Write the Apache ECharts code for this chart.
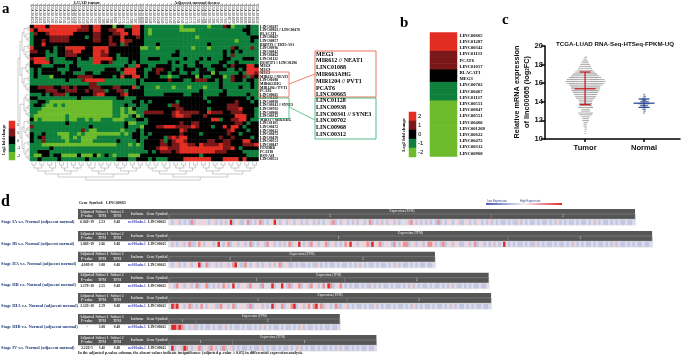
<!DOCTYPE html>
<html><head><meta charset="utf-8">
<style>html,body{margin:0;padding:0;background:#fff}#c{width:685px;height:355px}</style>
<script src="https://cdn.jsdelivr.net/npm/echarts@6/dist/echarts.min.js"></script></head>
<body><div id="c"></div>
<script>
// ---------- panel a ----------
const heatRowNames = ['LINC00287','LINC00963 // LINC00470','BLACAT1','LINC00467','LINC00857','BRD7P3 // TBX5-AS1','LINC00936','LINC00942','LINC00462','LINC01132','DUSP5P1 // LINC01296','MEG8','MEG9','MEG3','MIR612 // NEAT1','LINC01088','MIR663AHG','MIR1204 // PVT1','PCAT6','LINC00665','LINC01128','LINC00938','LINC00341 // SYNE3','LINC00702','LINC00968','LINC00312','MIR31 // MIR31HG','LINC01105','LINC00472','LINC00622','LINC00472','LINC00470','LINC00551','LINC00847','FENDRR','PCAT18','BSN-AS1','LINC00551'];
const heatColNames = '4625 4632 5321 6146 6147 7281 6742 6744 6745 8279 5936 6148 6149 6150 6743 7901 7902 8280 7283 7284 7285 8281 6770 6771 6772 7286 7287 8282 8283 8284 6146 6147 6148 6149 6150 6742 6743 6744 6745 6770 6771 6772 7281 7283 7284 7285 7286 7287 7901 7902 8279 8280 8281 8282 8283 8284 5936 4632'.split(' ').map(s => 'TCGA-38-' + s);
const heatTumor = [
'kRRRkRRRRRRRRrrkRRkkkLkkggRRk','RkRRRRRRRRRRrrrkRRkkrrRRkkRRk','grkkrRRRRRRkkkkkrrkkkrrRRkRRk','gkkkkrrrrrkkkkgkrrkkrkkRkkkrk','gkkrkrrrrrkkkkkkrrkkrkkRrrkkk',
'gkkRkkkkkkkkkkkkkkkkrrkgrkkkk','RkkkkkgkkRRRRRkkRRRRkkkkkkkkL','rrkkgkgkkrrRRkkkRRrRkkkkkkkkg','kkkkgggkkrrrkkkkRRrrkkgkkkkkg','rRRRgkgggkkkgkkgRRRRRkgggkkkg',
'kRRRRkgggggkggggRRkkrggggkgkg','kkkgggkkkgkkggggggggggggkggRk','gkgkkkkgggkkkggggggkkkgkRRRkk','gkgkkkkkgkkgggkkggkkkkkgRRRkk','gkgggLkkkkkkrrrrkkkkkgkRkkRRk',
'gggggggggkgggrRRRRRggggggggkg','gggggggggggggggrrggggggggggkg','kkrrrrkkrrkrkkkrrrkkkrrkkkRgk','kkkkrrrkkrrrkkrkrrrgkkrrgkkkk','gggkgkrrrgkkkkkkrRRkkkkrRkkkk',
'kkggggggggggkgggggggggkkgggkk','ggkkgLLLLLLLLLLLLLLLLgggggkkg','gkkgLLgLgLLLLLLLLLLLLgggkggkg','gggLLLLLLLLLLLLLLLLLLggLgLkgg','ggLLLLLLLLLLLLLLLLLLLggLgLLgg',
'gLLLLLLLLgLLLLLLLLLLLggLLgkLg','kLgLLLLLLgLLggLgLLgggLLLgggkk','gggggggggkggggggggggggggkLLgg','rggggggggggggggkggggggggkgggL','gggggggggggggrgLLggggggLgggkg',
'kggkgggLLLggLgLLLLLLLLLgLgkkg','kgkrggggLLgLgLLLLgggggggggkkg','kggrgggggLgggLLLggggggkggggkg','gggLLLLLLLLLLLLLLLLLLLgggLgLg','gggggkggggggggggggggggggggggg',
'ggkkkgggggggggggggggggggggggg','gLLkkgkkLLLLkLLLkLgkgLgggLLLk','ggkggggkggggggkgggggggkkkggkk'];
const heatNormal = [
'gggggggggLggggggLgggrkLgggkgg','gLgggggggLLLLggggggggggggkkgg','gLggggggggggggggggggggggggkgg','gggggggggggggLgggggggggggggkk','gggggggggggggggggggggggLgggkg',
'gggkggggggggggggkgggggggggggg','LggLggggggggLgggLgggggrkgggrg','ggggggggkgggggggggggkgkgkgggg','gggggggkkgggggggggggkgrgggggg','gkkkggggggkgggkgkgggkkgggkkkg',
'ggggggkgkggggkgggggkkggkggggg','kggkkkkgggkggkkggkkkgkrkkkRRk','ggkrrkkgkgkkkgkkggkkkggkgkRRR','gkkrkkgkkggkggkkkLkgggggkgRRr','gkkkggLggkkkkLkggkkkLgrkkrgrk',
'kkkkkkrkkkggkrrrkkgkggrkkgkkg','gggggggggggggggggggkgggggggkg','gggLgggLgggLgggLgggkggggkggkg','ggggggggggggggkgggggkgggggggg','gggggkkkkkggkkkggggkkgggggkgg',
'kkkkkkkkkkkkkkkgkkkkkkkkkkgkg','kgkkkkkkgkkkkkkkgkkkkkkrkkkgk','gkkkkkgrrkkkkkkkkkkkkrrrkkkkk','gkkkkkkkrrkkkkkkgkkkkrrrRkkkg','rrrrrkkrRrrrrrkkRrrrkkrrrkkkg',
'kkkkkkkrRRrrkkkrkkkkkkkRRRkkg','gkkkkkkkkkkkkkkkkRRgkkrrRRkgg','gkkkkkkkkrkkrrkkkkkkkkkrrkgkk','kkkrrRRRrrrrRrkkkgkkRkRRkgkkk','kkkkkkkkkRrkkkkkkkkkkrRkkkgkk',
'kgkkkkkkkrkkkkgkkkkkkrkkgkkkk','gkkkkgrRrRRkkkkkkkkrkkrkkkkgk','kkkkrgkrRRrkkkkkrrkkrrkkkRRkk','kkkkrrkrrRRrrkRrrrrRrrkkkrrrR','kkkrRRrrrRRRRRRRRRRRrrRkgkkkk',
'gkgkrrrkrRRRRRRRRRrrrkkkkgggg','kkkkkkkkkkkkkkgkkkkkkkkkkkggg','kgkgggkkkkRRRRRRRkkkRRRRkRkkk'];
const heatCodes = {R:2, r:1, k:0, g:-1, L:-2};
const heatColors = {'2':'#e22d22','1':'#7a1719','0':'#000000','-1':'#0f7f3c','-2':'#6dbb2b'};
const legendSteps = ['2','1','0','-1','-2'];
const leftTree = [[[[[0,1],[2,[3,4]]],[[5,6],[7,[8,9]]]],[[[10,11],[12,13]],[[14,15],[16,[17,18]]]]],[[[19,[20,21]],[[22,23],[24,25]]],[[[26,27],[[28,29],[30,31]]],[[32,33],[[34,35],[36,37]]]]]];
const bottomTree = [[[[[[0,1],[2,3]],[[4,5],6]],[[[7,8],9],[[10,11],[12,13]]]],[[[[14,15],16],[[17,18],[19,20]]],[[[21,22],[23,24]],[[25,26],[27,28]]]]],[[[[[29,30],[31,32]],[[33,34],35]],[[[36,37],[38,39]],[40,[41,42]]]],[[[[43,44],45],[[46,47],[48,49]]],[[[50,51],[52,53]],[[54,55],[56,57]]]]]];
const redBoxGenes = ['MEG3','MIR612 // NEAT1','LINC01088','MIR663AHG','MIR1204 // PVT1','PCAT6','LINC00665'];
const greenBoxGenes = ['LINC01128','LINC00938','LINC00341 // SYNE3','LINC00702','LINC00968','LINC00312'];
// ---------- panel b ----------
const bGenes = ['LINC00665','LINC01287','LINC00342','LINC01133','PCAT6','LINC01057','BLACAT1','MEG3','LINC00702','LINC00467','LINC01137','LINC00551','LINC00847','LINC00551','LINC00460','LINC001268','LINC00622','LINC00472','LINC00312','LINC00968'];
const bValues = [2,2,2,1,1,1,0,0,-1,-1,-1,-2,-2,-2,-2,-2,-2,-2,-2,-2];
// ---------- panel c ----------
const cTitle = 'TCGA-LUAD RNA-Seq-HTSeq-FPKM-UQ';
const cGroups = ['Tumor','Normal'];
const tumorBins = [[18.8,2],[18.6,3],[18.4,5],[18.2,7],[18,9],[17.8,11],[17.6,13],[17.4,15],[17.2,19],[17,23],[16.8,27],[16.6,31],[16.4,36],[16.2,38],[16,36],[15.8,32],[15.6,28],[15.4,28],[15.2,26],[15,24],[14.8,22],[14.6,20],[14.4,18],[14.2,14],[14,12],[13.8,12],[13.6,12],[13.4,14],[13.2,8],[13,8],[12.8,14],[12.6,12],[12.4,8],[12.2,6],[12,6],[11.8,4],[11.6,3],[11.4,3],[11.2,2],[11,2],[10.8,1],[10.6,1]];
const normalBins = [[14.8,1],[14.6,2],[14.4,3],[14.2,5],[14,8],[13.8,11],[13.6,7],[13.4,5],[13.2,3],[13,2],[12.8,1]];
const tumorStats = [1,15.4,13.7,17.2];
const normalStats = [2,13.85,13.4,14.3];
// ---------- panel d ----------
const stageNames = ['Stage IA v.s. Normal (adjacent normal)','Stage IB v.s. Normal (adjacent normal)','Stage IIA v.s. Normal (adjacent normal)','Stage IIB v.s. Normal (adjacent normal)','Stage IIIA v.s. Normal (adjacent normal)','Stage IIIB v.s. Normal (adjacent normal)','Stage IV v.s. Normal (adjacent normal)'];
const stagePvalues = ['6.04E-19','1.86E-19','4.00E-8','1.17E-18','3.12E-18','-','2.22E-5'];
const stageSubset1 = ['2.53','2.66','3.08','2.55','2.59','3.08','3.40'];
const stageSubset2 = ['0.48','0.48','0.48','0.48','0.48','0.48','0.48'];
const tableHeads = [['Adjusted','P-value'],['Subset 1','TPM'],['Subset 2','TPM'],['Isoform'],['Gene Symbol']];
const stageIA = '1012010103'+'0121210120'+'1020140120'+'0130102301'+'0124102102'+'1012010210'+'2010120301'+'0210102012'+'0130102010'+'2102011203'+'1020102010'+'3010210120'+'0120102101'+'02';
const stageIB = '1020120130'+'0132012102'+'4102301201'+'2013010210'+'3120102013'+'0214102031'+'2012301201'+'0132412012'+'2304123012'+'1031023301'+'2012013320'+'1030120210'+'0120130120'+'102010141';
const stageIIA = '1012010120'+'1240130210'+'2012013410'+'0310120102'+'1020130120';
const stageIIB = '2103120120'+'1301230102'+'0132014102'+'1203121031'+'1240124103'+'0123012031'+'2013143012'+'31';
const stageIIIA = '1434120130'+'2013102120'+'0312013012'+'1203012102'+'0140213012'+'3401202313'+'4230210130'+'012';
const stageIIIB = '14434301020';
const stageIV = '1401204310'+'1230120320'+'103012';
const normalStrip = '0101001010'+'0201010010'+'1001010201'+'0100101001'+'0102010010'+'101001001';
const stripColors = ['#c4c5e1','#dcdcee','#f6cfcf','#ee8e8e','#dc2a2a'];

// ---------- builders ----------
const SERIF = '"Liberation Serif","DejaVu Serif",serif', SANS = '"Liberation Sans",Arial,sans-serif';
const grids=[], xAxes=[], yAxes=[], series=[], graphic=[];
const heatSeriesIdx=[], stripSeriesIdx=[];
function addGrid(g,x,y){grids.push(Object.assign({containLabel:false},g));const i=grids.length-1;
  xAxes.push(Object.assign({gridIndex:i},x));yAxes.push(Object.assign({gridIndex:i},y));return i;}
const bare={axisLine:{show:false},axisTick:{show:false},splitLine:{show:false},axisLabel:{show:false}};
function text(x,y,s,o={}){graphic.push({type:'text',x,y,rotation:o.rot||0,z:20,silent:true,style:{text:s,fill:o.color||'#000',font:`${o.bold===false?'':'bold '}${o.size||5}px ${o.family||SERIF}`,align:o.align||'left',verticalAlign:'middle',rich:o.rich}});}
function rect(x,y,w,h,fill,stroke,lw){graphic.push({type:'rect',z:o0(stroke),silent:true,shape:{x,y,width:w,height:h},style:{fill:fill||'none',stroke:stroke||null,lineWidth:lw||0}});}
function o0(s){return s?15:1;}
function seg(x1,y1,x2,y2,c,lw){graphic.push({type:'line',z:16,silent:true,shape:{x1,y1,x2,y2},style:{stroke:c,lineWidth:lw||1}});}
function heatCat(gridI,data,idxList){series.push({type:'heatmap',xAxisIndex:gridI,yAxisIndex:gridI,data,progressive:0,emphasis:{disabled:true},itemStyle:{borderWidth:0}});idxList.push(series.length-1);}

// heat map a
{
  const g=addGrid({left:30,top:25,width:228.5,height:136},
    {type:'category',data:heatColNames,position:'top',...bare,axisLabel:{show:true,interval:0,rotate:90,fontSize:3,margin:1.5,color:'#333',fontFamily:SANS}},
    {type:'category',data:heatRowNames,inverse:true,position:'right',...bare,axisLabel:{show:true,interval:0,fontSize:3.6,fontWeight:'bold',margin:1.5,color:'#000',fontFamily:SERIF}});
  const d=[];
  heatTumor.forEach((row,r)=>{(row+heatNormal[r]).split('').forEach((ch,c)=>d.push([c,r,heatCodes[ch]]));});
  heatCat(g,d,heatSeriesIdx);
}
function legend(left,top,w,h,fs){
  const g=addGrid({left,top,width:w,height:h},{type:'category',data:['s'],...bare},
    {type:'category',data:legendSteps,inverse:true,position:'right',...bare,axisLabel:{show:true,interval:0,fontSize:fs,margin:2,color:'#000',fontFamily:SANS}});
  heatCat(g,legendSteps.map((v,i)=>[0,i,+v]),heatSeriesIdx);
}
legend(9,121,6,39,3.6);
legend(409,112,7,45,6);
// panel b
{
  const g=addGrid({left:430,top:32.5,width:27,height:124},{type:'category',data:['b'],...bare},
    {type:'category',data:bGenes,inverse:true,position:'right',...bare,axisLabel:{show:true,interval:0,fontSize:4.6,fontWeight:'bold',margin:2.5,color:'#000',fontFamily:SERIF}});
  heatCat(g,bValues.map((v,i)=>[0,i,v]),heatSeriesIdx);
}
// dendrograms
function treeSegs(node,out,vertical){ // returns [pos,height]
  if(typeof node==='number')return [node,0];
  const a=treeSegs(node[0],out,vertical),b=treeSegs(node[1],out,vertical);
  const h=Math.max(a[1],b[1])+1;
  out.push([a[0],a[1],a[0],h],[b[0],b[1],b[0],h],[a[0],h,b[0],h]);
  return [(a[0]+b[0])/2,h];
}
function dendroSeries(g,segs,vertical){
  series.push({type:'custom',xAxisIndex:g,yAxisIndex:g,silent:true,data:segs,
    encode:{x:vertical?[1,3]:[0,2],y:vertical?[0,2]:[1,3]},clip:false,
    renderItem(p,api){const v=i=>api.value(i);
      const a=vertical?api.coord([v(1),v(0)]):api.coord([v(0),v(1)]),b=vertical?api.coord([v(3),v(2)]):api.coord([v(2),v(3)]);
      return {type:'line',shape:{x1:a[0],y1:a[1],x2:b[0],y2:b[1]},style:{stroke:'#b4b4b4',lineWidth:0.7}};}});
}
{
  const out=[];const [,h]=treeSegs(bottomTree,out,false);
  const g=addGrid({left:30,top:162,width:228.5,height:18},{type:'value',min:-0.5,max:57.5,show:false},{type:'value',min:0,max:h,inverse:true,show:false});
  dendroSeries(g,out,false);
  const o2=[];const [,h2]=treeSegs(leftTree,o2,true);
  const g2=addGrid({left:18,top:25,width:12,height:136},{type:'value',min:0,max:h2,inverse:true,show:false},{type:'value',min:-0.5,max:37.5,inverse:true,show:false});
  dendroSeries(g2,o2,true);
}
// panel c
{
  const axisStyle={lineStyle:{color:'#000',width:1.5}};
  const g=addGrid({left:545,top:46,width:135,height:93},
    {type:'value',min:0.32,max:2.61,axisLine:{show:true,onZero:false,...axisStyle},splitLine:{show:false},
     axisTick:{show:true,length:3,customValues:[1,2],...axisStyle},
     axisLabel:{show:true,customValues:[1,2],formatter:v=>cGroups[Math.round(v)-1],fontSize:7.6,fontWeight:'bold',color:'#111',fontFamily:SANS,margin:4.5}},
    {type:'value',min:10,max:20,interval:2,axisLine:{show:true,...axisStyle},splitLine:{show:false},
     axisTick:{show:true,length:4,...axisStyle},axisLabel:{fontSize:7.6,fontWeight:'bold',color:'#111',fontFamily:SANS,margin:2}});
  const dot=1.05/59;
  const swarm=(bins,cx)=>{const o=[];bins.forEach(([y,n])=>{for(let j=0;j<n;j++){const k=Math.ceil(j/2)*(j%2?1:-1);o.push([cx+k*dot,y]);}});return o;};
  series.push({type:'scatter',xAxisIndex:g,yAxisIndex:g,silent:true,symbolSize:1.1,data:swarm(tumorBins,1),itemStyle:{color:'#777777'}});
  series.push({type:'scatter',xAxisIndex:g,yAxisIndex:g,silent:true,symbolSize:1.4,data:swarm(normalBins,2),itemStyle:{color:'#223a66'}});
  const errBar=(stats,color)=>series.push({type:'custom',xAxisIndex:g,yAxisIndex:g,silent:true,z:5,data:[stats],encode:{x:0,y:[1,2,3]},
    renderItem(p,api){const x=api.value(0),m=api.coord([x,api.value(1)]),lo=api.coord([x,api.value(2)]),hi=api.coord([x,api.value(3)]);
      const line=(x1,y1,x2,y2)=>({type:'line',shape:{x1,y1,x2,y2},style:{stroke:color,lineWidth:1.3}});
      return {type:'group',children:[line(m[0],lo[1],m[0],hi[1]),line(m[0]-10.5,m[1],m[0]+10.5,m[1]),line(m[0]-5.5,lo[1],m[0]+5.5,lo[1]),line(m[0]-5.5,hi[1],m[0]+5.5,hi[1])]};}});
  errBar(tumorStats,'#c42026');
  errBar(normalStats,'#2c4d9e');
}
// panel d strips
const stages=[stageIA,stageIB,stageIIA,stageIIB,stageIIIA,stageIIIB,stageIV];
const rowTops=[209,231,251.7,272.7,293,314,335];
const CELL=2.44, X0=169;
stages.forEach((tum,i)=>{
  const all=tum+normalStrip, w=all.length*CELL, top=rowTops[i], end=X0+w, bnd=X0+tum.length*CELL;
  rect(78,top,end-78,10.3,'#565656');
  const g=addGrid({left:X0,top:top+10.7,width:w,height:5},{type:'category',data:all.split('').map((_,k)=>k),...bare},{type:'category',data:['s'],...bare});
  heatCat(g,all.split('').map((c,k)=>[k,0,+c]),stripSeriesIdx);
  rect(X0-0.5,top+10.3,w+1,6,null,'#d8d8d8',0.5);
  const hx=[87,102,117,137,157];
  tableHeads.forEach((h,j)=>{
    if(h.length===2){text(hx[j],top+2.8,h[0],{size:3.7,color:'#ddd',align:'center'});text(hx[j],top+7.4,h[1],{size:3.7,color:'#ddd',align:'center'});}
    else text(hx[j],top+5,h[0],{size:3.7,color:'#ddd',align:'center'});
  });
  text((X0+end)/2,top+2.4,'Expression (TPM)',{size:3.2,color:'#ccc',align:'center'});
  seg(X0,top+5,end,top+5,'#8a8a8a',0.6);
  seg(X0,top+5,X0,top+10.3,'#8a8a8a',0.6);seg(bnd,top+5,bnd,top+10.3,'#8a8a8a',0.6);seg(end,top+5,end,top+10.3,'#8a8a8a',0.6);
  text((X0+bnd)/2,top+7.6,'1',{size:3,color:'#ccc',align:'center'});
  text((bnd+end)/2,top+7.6,'2',{size:3,color:'#ccc',align:'center'});
  text(87,top+13.2,stagePvalues[i],{size:3.6,align:'center',color:'#222'});
  text(102,top+13.2,stageSubset1[i],{size:3.6,align:'center',color:'#222'});
  text(117,top+13.2,stageSubset2[i],{size:3.6,align:'center',color:'#222'});
  text(137,top+13.2,'uc002xdu.1',{size:3.6,align:'center',color:'#3a3fb0'});
  text(157,top+13.2,'LINC00665',{size:3.6,align:'center',color:'#222'});
  text(1,top+12.6,stageNames[i],{size:4.4,color:'#1f3a78'});
});
// text and frames
text(2,9,'a',{size:15});text(400,23,'b',{size:15});text(502,20,'c',{size:15});text(1,202,'d',{size:16});
text(87,2.5,'LUAD tumor',{size:4.5,align:'center',color:'#222'});
text(197,2.5,'Adjacent normal tissues',{size:4.5,align:'center',color:'#222'});
seg(30,5.5,144,5.5,'#999',0.8);seg(146,5.5,259,5.5,'#999',0.8);
text(3.5,140,'Log2 fold change',{size:4.2,rot:Math.PI/2,align:'center'});
text(404,135,'Log2 fold change',{size:4.6,rot:Math.PI/2,align:'center'});
rect(259,72,30,25,null,'#e8624a',0.8);rect(259,98,30,20.5,null,'#3fb37a',0.8);
rect(315,51,61,46,null,'#e8624a',0.9);rect(315,98,61,41,null,'#3fb37a',0.9);
seg(289,84,315,74,'#e8624a',0.8);seg(289,107,315,120,'#3fb37a',0.8);
redBoxGenes.forEach((s,i)=>text(316,54+i*6.8,s,{size:6}));
greenBoxGenes.forEach((s,i)=>text(316,100.7+i*6.75,s,{size:6}));
text(615,44.5,cTitle,{size:6.2,family:SANS,align:'center',color:'#111'});
text(516.5,92,'Relative mRNA expression',{size:7.3,family:SANS,rot:Math.PI/2,align:'center',color:'#111'});
text(526.5,92,'of linc00665 (log{s|2}FC)',{size:7.3,family:SANS,rot:Math.PI/2,align:'center',color:'#111',rich:{s:{font:'bold 4.6px '+SANS,fill:'#111',verticalAlign:'bottom'}}});
text(79,203,'Gene Symbol:   LINC00665',{size:4,color:'#222'});
text(487,200.8,'Low Expression',{size:2.8,bold:false,family:SANS,color:'#2a3f8f'});
text(520,200.8,'High Expression',{size:2.8,bold:false,family:SANS,color:'#2a3f8f'});
graphic.push({type:'rect',z:2,silent:true,shape:{x:486,y:203,width:76,height:2},style:{fill:new echarts.graphic.LinearGradient(0,0,1,0,[{offset:0,color:'#4a56b0'},{offset:0.5,color:'#f2f0f4'},{offset:1,color:'#e02a2a'}])}});
text(78,352.8,'In the adjusted p-value column, the absent values indicate insignificance (adjusted p-value ≥ 0.05) in differential expression analysis.',{size:4,color:'#222'});

const chart=echarts.init(document.getElementById('c'),null,{renderer:'canvas'});
chart.setOption({animation:false,backgroundColor:'#fff',grid:grids,xAxis:xAxes,yAxis:yAxes,series,graphic,tooltip:{show:false},
  visualMap:[
   {show:false,type:'piecewise',dimension:2,seriesIndex:heatSeriesIdx,pieces:Object.keys(heatColors).map(k=>({value:+k,color:heatColors[k]}))},
   {show:false,type:'piecewise',dimension:2,seriesIndex:stripSeriesIdx,pieces:stripColors.map((c,k)=>({value:k,color:c}))}
  ]});
</script></body></html>
